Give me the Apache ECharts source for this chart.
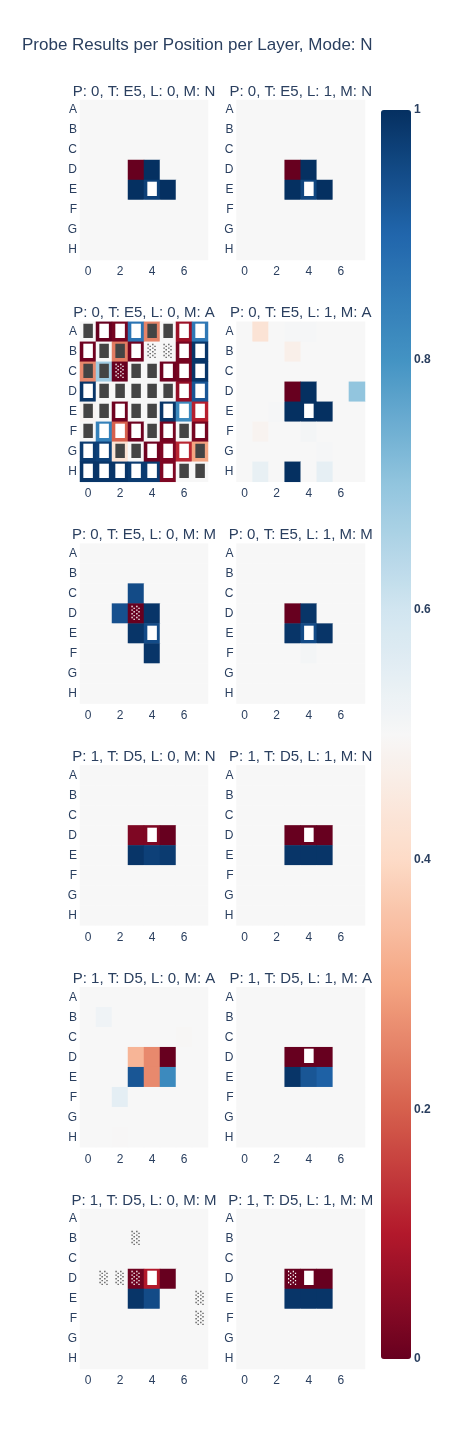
<!DOCTYPE html>
<html>
<head>
<meta charset="utf-8">
<script src="https://cdn.jsdelivr.net/npm/echarts@6/dist/echarts.min.js"></script>
<style>html,body{margin:0;padding:0;background:#fff;}#c{width:450px;height:1450px;}</style>
</head>
<body>
<div id="c"></div>
<script>
// ---------- data ----------
const mainTitle = 'Probe Results per Position per Layer, Mode: N';
const xCats = ['0','1','2','3','4','5','6','7'];
const yCats = ['A','B','C','D','E','F','G','H'];
const colorbarTicks = [0, 0.2, 0.4, 0.6, 0.8, 1];
const RdBu = ['#67001f','#b2182b','#d6604d','#f4a582','#fddbc7','#f7f7f7','#d1e5f0','#92c5de','#4393c3','#2166ac','#053061'];

const panelTitles = [
  'P: 0, T: E5, L: 0, M: N', 'P: 0, T: E5, L: 1, M: N',
  'P: 0, T: E5, L: 0, M: A', 'P: 0, T: E5, L: 1, M: A',
  'P: 0, T: E5, L: 0, M: M', 'P: 0, T: E5, L: 1, M: M',
  'P: 1, T: D5, L: 0, M: N', 'P: 1, T: D5, L: 1, M: N',
  'P: 1, T: D5, L: 0, M: A', 'P: 1, T: D5, L: 1, M: A',
  'P: 1, T: D5, L: 0, M: M', 'P: 1, T: D5, L: 1, M: M'
];

const P0L0N = [
  [.5,.5,.5,.5,.5,.5,.5,.5],
  [.5,.5,.5,.5,.5,.5,.5,.5],
  [.5,.5,.5,.5,.5,.5,.5,.5],
  [.5,.5,.5,0,1,.5,.5,.5],
  [.5,.5,.5,1,.97,1,.5,.5],
  [.5,.5,.5,.5,.5,.5,.5,.5],
  [.5,.5,.5,.5,.5,.5,.5,.5],
  [.5,.5,.5,.5,.5,.5,.5,.5]];
const P0L1N = [
  [.5,.5,.5,.5,.5,.5,.5,.5],
  [.5,.5,.5,.5,.5,.5,.5,.5],
  [.5,.5,.5,.5,.5,.5,.5,.5],
  [.5,.5,.5,0,1,.5,.5,.5],
  [.5,.5,.5,1,.96,1,.5,.5],
  [.5,.5,.5,.5,.5,.5,.5,.5],
  [.5,.5,.5,.5,.5,.5,.5,.5],
  [.5,.5,.5,.5,.5,.5,.5,.5]];
const P0L0A = [
  [.5,.0,.02,.87,.25,.5,.07,.86],
  [.01,.5,.24,.01,.5,.5,.02,.99],
  [.26,.68,.0,.5,.5,.01,.02,.99],
  [.99,.5,.5,.5,.5,.5,.06,.93],
  [.49,.5,.01,.5,.5,.99,.82,.11],
  [.5,.84,.2,.01,.5,.02,.5,.02],
  [.98,.97,.43,.5,.01,.03,.12,.3],
  [.99,.99,.99,.98,.98,.03,.5,.5]];
const P0L1A = [
  [.5,.43,.5,.505,.505,.5,.5,.5],
  [.5,.5,.5,.47,.5,.5,.5,.5],
  [.5,.5,.5,.5,.5,.5,.5,.5],
  [.5,.5,.5,0,1,.5,.5,.7],
  [.5,.5,.505,1,1,1,.5,.5],
  [.5,.485,.5,.5,.51,.5,.5,.5],
  [.5,.5,.5,.5,.5,.505,.5,.5],
  [.5,.54,.5,1,.5,.545,.5,.5]];
const P0L0M = [
  [.5,.5,.5,.5,.5,.5,.5,.5],
  [.5,.5,.5,.5,.5,.5,.5,.5],
  [.5,.5,.5,.95,.5,.5,.5,.5],
  [.5,.5,.94,0,.99,.5,.5,.5],
  [.5,.5,.5,.99,.95,.5,.5,.5],
  [.5,.5,.5,.5,.99,.5,.5,.5],
  [.5,.5,.5,.5,.5,.5,.5,.5],
  [.5,.5,.5,.5,.5,.5,.5,.5]];
const P0L1M = [
  [.5,.5,.5,.5,.5,.5,.5,.5],
  [.5,.5,.5,.5,.5,.5,.5,.5],
  [.5,.5,.5,.5,.5,.5,.5,.5],
  [.5,.5,.5,0,.99,.5,.5,.5],
  [.5,.5,.5,.99,.95,.99,.5,.5],
  [.5,.5,.5,.5,.51,.5,.5,.5],
  [.5,.5,.5,.5,.5,.5,.5,.5],
  [.5,.5,.5,.5,.5,.5,.5,.5]];
const P1L0N = [
  [.5,.5,.5,.5,.5,.5,.5,.5],
  [.5,.5,.5,.5,.5,.5,.5,.5],
  [.5,.5,.5,.5,.5,.5,.5,.5],
  [.5,.5,.5,.03,.03,0,.5,.5],
  [.5,.5,.5,.99,.97,.98,.5,.5],
  [.5,.5,.5,.5,.5,.5,.5,.5],
  [.5,.5,.5,.5,.5,.5,.5,.5],
  [.5,.5,.5,.5,.5,.5,.5,.5]];
const P1L1N = [
  [.5,.5,.5,.5,.5,.5,.5,.5],
  [.5,.5,.5,.5,.5,.5,.5,.5],
  [.5,.5,.5,.5,.5,.5,.5,.5],
  [.5,.5,.5,0,0,0,.5,.5],
  [.5,.5,.5,.99,.99,.99,.5,.5],
  [.5,.5,.5,.5,.5,.5,.5,.5],
  [.5,.5,.5,.5,.5,.5,.5,.5],
  [.5,.5,.5,.5,.5,.5,.5,.5]];
const P1L0A = [
  [.5,.5,.5,.5,.5,.5,.5,.5],
  [.5,.52,.5,.5,.5,.5,.5,.5],
  [.5,.5,.5,.5,.5,.5,.495,.5],
  [.5,.5,.5,.33,.26,0,.5,.5],
  [.5,.5,.5,.93,.26,.82,.5,.5],
  [.5,.5,.55,.5,.5,.5,.5,.5],
  [.5,.5,.5,.5,.5,.5,.5,.5],
  [.5,.5,.498,.5,.5,.5,.5,.5]];
const P1L1A = [
  [.5,.5,.5,.5,.5,.5,.5,.5],
  [.5,.5,.5,.5,.5,.5,.5,.5],
  [.5,.5,.5,.5,.5,.5,.5,.5],
  [.5,.5,.5,0,0,0,.5,.5],
  [.5,.5,.5,.99,.93,.91,.5,.5],
  [.5,.5,.5,.5,.5,.5,.5,.5],
  [.5,.5,.5,.5,.5,.5,.5,.5],
  [.5,.5,.5,.5,.5,.5,.5,.5]];
const P1L0M = [
  [.5,.5,.5,.5,.5,.5,.5,.5],
  [.5,.5,.5,.5,.5,.5,.5,.5],
  [.5,.5,.5,.5,.5,.5,.5,.5],
  [.5,.5,.5,.01,.1,0,.5,.5],
  [.5,.5,.5,.99,.95,.5,.5,.5],
  [.5,.5,.5,.5,.5,.5,.5,.5],
  [.5,.5,.5,.5,.5,.5,.5,.5],
  [.5,.5,.5,.5,.5,.5,.5,.5]];
const P1L1M = [
  [.5,.5,.5,.5,.5,.5,.5,.5],
  [.5,.5,.5,.5,.5,.5,.5,.5],
  [.5,.5,.5,.5,.5,.5,.5,.5],
  [.5,.5,.5,0,0,0,.5,.5],
  [.5,.5,.5,.99,.99,.99,.5,.5],
  [.5,.5,.5,.5,.5,.5,.5,.5],
  [.5,.5,.5,.5,.5,.5,.5,.5],
  [.5,.5,.5,.5,.5,.5,.5,.5]];

// cell glyph codes: B = full block, S = light shade, . = none
const G_P0L0N = ['........','........','........','........','....B...','........','........','........'];
const G_P0L1N = G_P0L0N;
const G_P0L0A = ['BBBBBBBB','BBBBSSBB','BBSBBBBB','BBBBBBBB','BBBBBBBB','BBBBBBBB','BBBBBBBB','BBBBBBBB'];
const G_P0L1A = ['........','........','........','........','....B...','........','........','........'];
const G_P0L0M = ['........','........','........','...S....','....B...','........','........','........'];
const G_P0L1M = ['........','........','........','........','....B...','........','........','........'];
const G_P1L0N = ['........','........','........','....B...','........','........','........','........'];
const G_P1L1N = G_P1L0N;
const G_P1L0A = ['........','........','........','........','........','........','........','........'];
const G_P1L1A = ['........','........','........','....B...','........','........','........','........'];
const G_P1L0M = ['........','...S....','........','.SSSB...','.......S','.......S','........','........'];
const G_P1L1M = ['........','........','........','...SB...','........','........','........','........'];

const panelValues = [P0L0N,P0L1N,P0L0A,P0L1A,P0L0M,P0L1M,P1L0N,P1L1N,P1L0A,P1L1A,P1L0M,P1L1M];
const panelGlyphs = [G_P0L0N,G_P0L1N,G_P0L0A,G_P0L1A,G_P0L0M,G_P0L1M,G_P1L0N,G_P1L1N,G_P1L0A,G_P1L1A,G_P1L0M,G_P1L1M];

// ---------- layout ----------
const FONT = 'Liberation Sans, Arial, sans-serif';
const TXT = '#2a3f5f';
const colLeft = [80, 236.5];
const colWidth = [128, 128.5];
const rowTop0 = 100, rowPitch = 221.8, plotH = 160;

const grids = [], xAxes = [], yAxes = [], series = [], graphics = [];
graphics.push({type:'text', x:22, y:45, style:{text:mainTitle, font:'17px ' + FONT, fill:TXT, textVerticalAlign:'middle'}});

panelValues.forEach((vals, i) => {
  const r = Math.floor(i / 2), c = i % 2;
  const top = rowTop0 + r * rowPitch;
  grids.push({left: colLeft[c], top: top, width: colWidth[c], height: plotH});
  xAxes.push({type:'category', gridIndex:i, data:xCats,
    axisLine:{show:false}, axisTick:{show:false}, splitLine:{show:false},
    axisLabel:{interval:1, margin:6, color:TXT, fontSize:12, fontFamily:FONT}});
  yAxes.push({type:'category', gridIndex:i, data:yCats, inverse:true,
    axisLine:{show:false}, axisTick:{show:false}, splitLine:{show:false},
    axisLabel:{interval:0, margin:3, color:TXT, fontSize:12, fontFamily:FONT}});
  const data = [];
  vals.forEach((row, y) => row.forEach((v, x) => data.push([x, y, v])));
  const glyphs = panelGlyphs[i];
  series.push({
    type:'heatmap', xAxisIndex:i, yAxisIndex:i, data:data, silent:true,
    emphasis:{disabled:true},
    label:{show:true, fontSize:12, fontFamily:'DejaVu Sans',
      formatter: (p) => {
        const code = glyphs[p.data[1]][p.data[0]];
        if (code === '.') return '';
        const v = p.data[2];
        const cls = (v < 0.22 || v > 0.78) ? 'w' : 'k';
        const ch = code === 'B' ? '\u2588' : '\u2591';
        return '{' + cls + '|' + ch + '}';
      },
      rich:{
        w:{color:'#ffffff', fontSize:12, fontFamily:'DejaVu Sans', lineHeight:14},
        k:{color:'#444444', fontSize:12, fontFamily:'DejaVu Sans', lineHeight:14}
      }}
  });
  graphics.push({type:'text', x: colLeft[c] + colWidth[c] / 2, y: top - 8.5,
    style:{text:panelTitles[i], font:'15px ' + FONT, fill:TXT, textAlign:'center', textVerticalAlign:'middle'}});
});

// colorbar label axis
const cbTop = 110, cbH = 1249, cbLeft = 381, cbW = 30;
grids.push({left:cbLeft, top:cbTop, width:cbW, height:cbH, show:false});
xAxes.push({type:'value', gridIndex:12, show:false});
yAxes.push({type:'value', gridIndex:12, min:colorbarTicks[0], max:colorbarTicks[colorbarTicks.length-1], interval:0.2, position:'right',
  axisLine:{show:false}, axisTick:{show:false}, splitLine:{show:false},
  axisLabel:{margin:3, color:TXT, fontSize:12, fontWeight:'bold', fontFamily:FONT,
    formatter: v => String(Math.round(v * 10) / 10)}});

const option = {
  animation:false,
  backgroundColor:'#ffffff',
  grid:grids, xAxis:xAxes, yAxis:yAxes, series:series,
  visualMap:{type:'continuous', min:0, max:1, dimension:2,
    seriesIndex: series.map((s, k) => k),
    left:cbLeft, top:cbTop, itemWidth:cbW, itemHeight:cbH, padding:0,
    calculable:false, hoverLink:false, realtime:false,
    inRange:{color:RdBu}, text:null, showLabel:false},
  graphic:graphics
};
const chart = echarts.init(document.getElementById('c'), null, {renderer:'canvas'});
chart.setOption(option);
</script>
</body>
</html>
